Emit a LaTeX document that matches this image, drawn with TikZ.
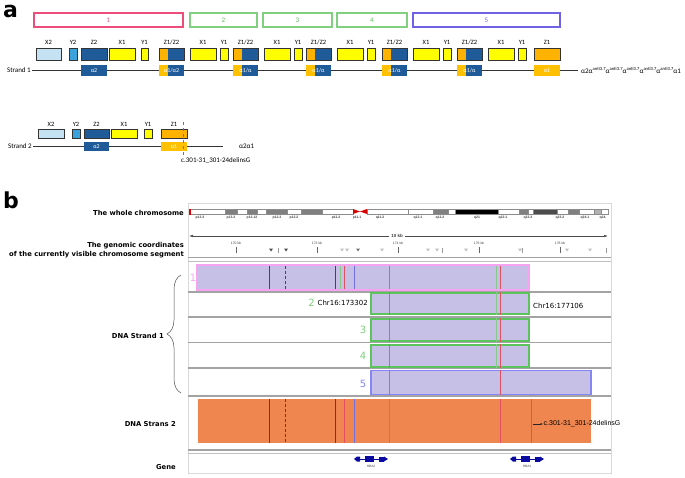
\documentclass[tikz,border=0pt]{standalone}
\usepackage{fontspec}
\setmainfont{Carlito}
\newfontfamily\dejavu{DejaVu Sans}
\newfontfamily\arialish{Liberation Sans}
\usepackage{xcolor}
\usetikzlibrary{calc,positioning,arrows.meta,decorations.pathreplacing}

\definecolor{boxpink}{HTML}{EE4D7C}
\definecolor{boxgreen}{HTML}{7FD07F}
\definecolor{numgreen}{HTML}{5CBF5C}
\definecolor{boxblue}{HTML}{6F62E6}
\definecolor{xtwo}{HTML}{C4E2F2}
\definecolor{ytwo}{HTML}{3BA2DC}
\definecolor{zdark}{HTML}{1F5B99}
\definecolor{ygene}{HTML}{FFFF00}
\definecolor{zorange}{HTML}{FFB300}
\definecolor{aorange}{HTML}{FFC000}
\definecolor{mutblue}{HTML}{2A8CBF}
\definecolor{lav}{HTML}{C7C0E6}
\definecolor{trkpink}{HTML}{F6A4F2}
\definecolor{trkgreen}{HTML}{5DC45D}
\definecolor{trkblue}{HTML}{8585F5}
\definecolor{strandor}{HTML}{EF864F}
\definecolor{sepgray}{HTML}{A3A3A3}
\definecolor{hbanavy}{HTML}{0A0AA0}
\definecolor{vpurple}{HTML}{5A2CA0}
\definecolor{vblue}{HTML}{7070E0}
\definecolor{vgreen}{HTML}{88C888}
\definecolor{vred}{HTML}{E05060}
\definecolor{vorange}{HTML}{D8703A}
\definecolor{vyell}{HTML}{B0B040}

\newcommand{\anti}{α\raisebox{2.6pt}{\fontsize{4.6}{5}\selectfont anti3.7}}

\begin{document}
\begin{tikzpicture}[x=1pt,y=-1pt,
  gbox/.style={draw=black!80,line width=0.9pt,inner sep=0pt,minimum height=12pt},
  glbl/.style={font=\fontsize{6.5}{7}\selectfont,inner sep=1pt},
  abar/.style={inner sep=0pt,minimum height=11pt,text=white,font=\fontsize{6}{7}\selectfont},
  segbox/.style={draw,line width=1.1pt,inner sep=0pt,minimum height=14pt,font=\fontsize{7}{8}\selectfont},
  lbl/.style={font=\dejavu\bfseries\fontsize{6.8}{9}\selectfont,anchor=east,align=right,inner sep=0pt},
  small/.style={font=\arialish\bfseries\fontsize{3.4}{4}\selectfont,inner sep=0pt,text=black!75},
  trk/.style={fill=lav,line width=1.5pt,inner sep=0pt},
  trknum/.style={font=\dejavu\fontsize{10}{10}\selectfont,inner sep=0.5pt},
  chrpos/.style={font=\dejavu\fontsize{7}{8}\selectfont,inner sep=0pt},
  sep/.style={sepgray,line width=1.6pt},
  panel/.style={font=\dejavu\bfseries\fontsize{22}{22}\selectfont,inner sep=0pt,anchor=base west}]

\useasboundingbox (0,0) rectangle (685,477);

% panel a
\node[panel] (pa) at (3,17.5) {a};
\node[segbox,draw=boxpink,text=boxpink,minimum width=149pt] (seg1) at (108.5,20) {1};
\node[segbox,draw=boxgreen,text=numgreen,minimum width=67pt] (seg2) at (223.5,20) {2};
\node[segbox,draw=boxgreen,text=numgreen,minimum width=69pt] (seg3) at (297.5,20) {3};
\node[segbox,draw=boxgreen,text=numgreen,minimum width=70pt] (seg4) at (372,20) {4};
\node[segbox,draw=boxblue,text=boxblue,minimum width=147pt] (seg5) at (486.5,20) {5};

\node[glbl,anchor=east,font=\fontsize{7}{8}\selectfont] (s1) at (32,70.5) {Strand 1};
\node[anchor=west,inner sep=3pt,font=\fontsize{7}{8}\selectfont] (hap1) at (578,70.5) {α2\anti\anti\anti\anti\anti{}α1};
\draw[black!80,line width=0.8pt] (s1) -- (hap1);

\node[gbox,fill=xtwo,minimum width=25pt,label={[glbl,label distance=2pt]above:X2}] (x2a) at (48.5,54) {};
\node[gbox,fill=ytwo,minimum width=8pt,label={[glbl,label distance=2pt]above:Y2}] (y2a) at (73,54) {};
\node[gbox,fill=zdark,minimum width=26pt,label={[glbl,label distance=2pt]above:Z2}] (z2a) at (94,54) {};
\node[gbox,fill=ygene,minimum width=26pt,label={[glbl,label distance=2pt]above:X1}] (x1a) at (122,54) {};
\node[gbox,fill=ygene,minimum width=7pt,label={[glbl,label distance=2pt]above:Y1}] (y1a) at (144.5,54) {};
\node[abar,fill=zdark,minimum width=26pt] (a2a) at (94,70.5) {α2};

\foreach \i/\x/\t in {1/159/{α1/α2},2/233/{α1/α},3/306/{α1/α},4/382/{α1/α},5/457/{α1/α}}{
  \node[gbox,fill=zdark,minimum width=25pt,
    path picture={\fill[zorange] (path picture bounding box.north west) rectangle ($(path picture bounding box.south west)+(9,0)$);},
    label={[glbl,label distance=2pt]above:Z1/Z2}] (zz\i) at (\x+12.5,54) {};
  \node[gbox,fill=ygene,minimum width=26pt,label={[glbl,label distance=2pt]above:X1}] (xu\i) at (\x+44,54) {};
  \node[gbox,fill=ygene,minimum width=8pt,label={[glbl,label distance=2pt]above:Y1}] (yu\i) at (\x+65,54) {};
  \node[abar,fill=zdark,minimum width=25pt,
    path picture={\fill[aorange] (path picture bounding box.north west) rectangle ($(path picture bounding box.south west)+(9,0)$);}] (au\i) at (\x+12.5,70.5) {\t};
}
\node[gbox,fill=zorange,minimum width=26pt,label={[glbl,label distance=2pt]above:Z1}] (z1a) at (547,54) {};
\node[abar,fill=aorange,minimum width=26pt] (a1a) at (547,70.5) {α1};

\node[glbl,anchor=east,font=\fontsize{7}{8}\selectfont] (s2) at (33,146) {Strand 2};
\coordinate (s2end) at (223,146);
\draw[black!80,line width=0.8pt] (s2) -- (s2end);
\node[glbl,anchor=west,font=\fontsize{7}{8}\selectfont] (hap2) at (238,146) {α2α1};

\node[gbox,fill=xtwo,minimum width=26pt,minimum height=9pt,label={[glbl,label distance=1pt]above:X2}] (x2b) at (51,133.5) {};
\node[gbox,fill=ytwo,minimum width=8pt,minimum height=9pt,label={[glbl,label distance=1pt]above:Y2}] (y2b) at (76,133.5) {};
\node[gbox,fill=zdark,minimum width=25pt,minimum height=9pt,label={[glbl,label distance=1pt]above:Z2}] (z2b) at (96.5,133.5) {};
\node[gbox,fill=ygene,minimum width=26pt,minimum height=9pt,label={[glbl,label distance=1pt]above:X1}] (x1b) at (124,133.5) {};
\node[gbox,fill=ygene,minimum width=8pt,minimum height=9pt,label={[glbl,label distance=1pt]above:Y1}] (y1b) at (148,133.5) {};
\node[gbox,fill=zorange,minimum width=26pt,minimum height=9pt,label={[glbl,label distance=1pt]above:Z1}] (z1b) at (174,133.5) {};
\node[abar,fill=zdark,minimum width=25pt,minimum height=9pt] (a2b) at (96.5,146.5) {α2};
\node[abar,fill=aorange,minimum width=26pt,minimum height=9pt] (a1b) at (174,146.5) {α1};

\node[glbl,anchor=north west,font=\fontsize{7}{8}\selectfont] (mut1) at (180,156) {c.301-31\_301-24delinsG};
\coordinate (mtop) at (183.5,122);
\draw[mutblue,dashed,line width=0.8pt] (mtop) -- (mtop |- mut1.north);

% panel b
\node[panel] (pb) at (3,208) {b};
\draw[black!15] (188,203) rectangle (611,473);

\node[lbl] (whole) at (184,213) {The whole chromosome};
\node[lbl] (coords) at (184,250) {The genomic coordinates\\of the currently visible chromosome segment};

\foreach \a/\b/\c in {189/225/white,225/237/black!50,237/247/white,247/257/black!50,257/266/white,
  266/287/black!50,287/301/white,301/322/black!50,322/353/white,367/408/white,408/433/white,
  433/448/black!50,448/455/white,455/498/black,498/519/white,519/528/black!50,528/533/white,
  533/557/black!70,557/568/white,568/579/black!50,579/594/white,594/601/black!30,601/608/white}
  \filldraw[fill=\c,draw=black!45,line width=0.4pt] (\a,209) rectangle (\b,214);
\fill[red!85!black] (189,208.5) rectangle (191,214.5);
\fill[red!85!black] (353,209) -- (360,211.5) -- (353,214) -- cycle;
\fill[red!85!black] (367,209) -- (360,211.5) -- (367,214) -- cycle;

\foreach \x/\t in {200/p13.3,231/p13.2,252/p13.12,277/p12.3,294/p12.2,336/p11.2,357/p11.1,
  380/q11.2,418/q12.1,440/q12.2,477/q21,503/q22.1,528/q22.3,560/q23.2,585/q24.1,603/q24.}
  \node[small] at (\x,218) {\t};

\node[small,font=\arialish\bfseries\fontsize{4.5}{5}\selectfont,fill=white,inner sep=2pt] (kb) at (397,236) {10 kb};
\coordinate (scl) at (189,236);
\coordinate (scr) at (608,236);
\draw[black!70,line width=0.5pt,-{Latex[length=4pt,width=2.5pt]}] (kb) -- (scl);
\draw[black!70,line width=0.5pt,-{Latex[length=4pt,width=2.5pt]}] (kb) -- (scr);

\foreach \x/\t in {236/170,317/172,398/174,479/176,560/178}{
  \node[small,font=\arialish\fontsize{3.4}{4}\selectfont] at (\x,243) {\t\ kb};
  \draw[black!60,line width=0.4pt] (\x,247) -- (\x,253);
}
\foreach \x/\c in {271/black!70,286/black!70,358/black!55,342/black!25,347/black!25,382/black!25,
  428/black!25,437/black!25,466/black!25,520/black!25,567/black!25,590/black!25}
  \fill[\c] (\x-2,248.5) -- (\x+2,248.5) -- (\x,251.5) -- cycle;
\foreach \x in {278,442,522,606}
  \draw[black!40,line width=0.4pt] (\x,248) -- (\x,253);

\foreach \y in {257.5,292,317,342.5,368,396,450}
  \draw[sep] (188,\y) -- (611,\y);
\draw[black!25,line width=1.2pt] (188,261.5) -- (611,261.5);
\draw[black!25,line width=1.2pt] (188,453.5) -- (611,453.5);

\node[trk,draw=trkpink,minimum width=332pt,minimum height=25pt] (t1) at (363,277.5) {};
\node[trk,draw=trkgreen,minimum width=158pt,minimum height=21pt] (t2) at (450,303.5) {};
\node[trk,draw=trkgreen,minimum width=158pt,minimum height=22pt] (t3) at (450,330) {};
\node[trk,draw=trkgreen,minimum width=158pt,minimum height=22pt] (t4) at (450,356) {};
\node[trk,draw=trkblue,minimum width=220pt,minimum height=24pt] (t5) at (481,382.5) {};
\node[fill=strandor,inner sep=0pt,minimum width=393pt,minimum height=44pt] (st2) at (394.5,421) {};

\foreach \x/\c in {269/vpurple,335/vpurple,340/vgreen,344/vred,354/vblue,389/vorange,496/vgreen,500/vred}
  \draw[draw=\c,line width=0.6pt] (\x,266) -- (\x,289);
\draw[vpurple,densely dashed,line width=0.6pt] (285,266) -- (285,289);
\foreach \t in {t2,t3,t4}{
  \draw[vorange,line width=0.6pt] (389,0 |- \t.north) -- (389,0 |- \t.south);
  \draw[vgreen,line width=0.6pt] (496,0 |- \t.north) -- (496,0 |- \t.south);
  \draw[vred,line width=0.6pt] (500,0 |- \t.north) -- (500,0 |- \t.south);
}
\draw[vorange,line width=0.6pt] (389,0 |- t5.north) -- (389,0 |- t5.south);
\draw[vred,line width=0.6pt] (500,0 |- t5.north) -- (500,0 |- t5.south);
\foreach \x/\c in {269/vpurple,335/vpurple,339/vyell,344/vred,354/vblue,389/vorange,500/vred,531/vred}
  \draw[draw=\c,line width=0.6pt] (\x,399) -- (\x,443);
\draw[vpurple,densely dashed,line width=0.6pt] (285,399) -- (285,443);

\node[trknum,text=trkpink] (n1) at (193,278) {1};
\node[chrpos,anchor=east] (chrl) at (368,303) {Chr16:173302};
\node[trknum,text=trkgreen!80,left=2pt of chrl] (n2) {2};
\node[chrpos,anchor=west] (chrr) at (533,306) {Chr16:177106};
\node[trknum,text=trkgreen!80,anchor=east] (n3) at (367,330) {3};
\node[trknum,text=trkgreen!80,anchor=east] (n4) at (367,356) {4};
\node[trknum,text=trkblue,anchor=east] (n5) at (367,384) {5};

\node[font=\arialish\fontsize{7}{8}\selectfont,anchor=west,inner sep=0.5pt] (mut2) at (543,424) {c.301-31\_301-24delinsG};
\coordinate (mut2a) at (533,424);
\draw[black!85,line width=0.4pt,-{Latex[length=2.5pt,width=2pt]}] (mut2a) -- (mut2);

\foreach \g/\x in {HBA2/371,HBA1/527}{
  \node[small,font=\arialish\fontsize{3.2}{4}\selectfont,anchor=north] (\g) at (\x,465.5) {\g};
  \draw[hbanavy,line width=0.7pt] (\x-16,459) -- (\x+16,459);
  \fill[hbanavy] (\x-17,459) -- (\x-14,456.5) -- (\x-11,456.5) -- (\x-11,461.5) -- (\x-14,461.5) -- cycle;
  \fill[hbanavy] (\x-6,456) rectangle (\x+3,462);
  \fill[hbanavy] (\x+8,456.5) rectangle (\x+13,461.5);
  \fill[hbanavy] (\x+13,456.5) -- (\x+17,459) -- (\x+13,461.5) -- cycle;
}

\node[lbl] (dna1) at (164,336) {DNA Strand 1};
\coordinate (brtop) at (181,275);
\coordinate (brbot) at (181,393);
\draw[black!70,line width=0.5pt,decorate,decoration={brace,amplitude=14pt}] (brbot) -- (brtop);
\node[lbl] (dna2) at (176,424) {DNA Strans 2};
\node[lbl] (gene) at (176,467) {Gene};

\end{tikzpicture}
\end{document}
